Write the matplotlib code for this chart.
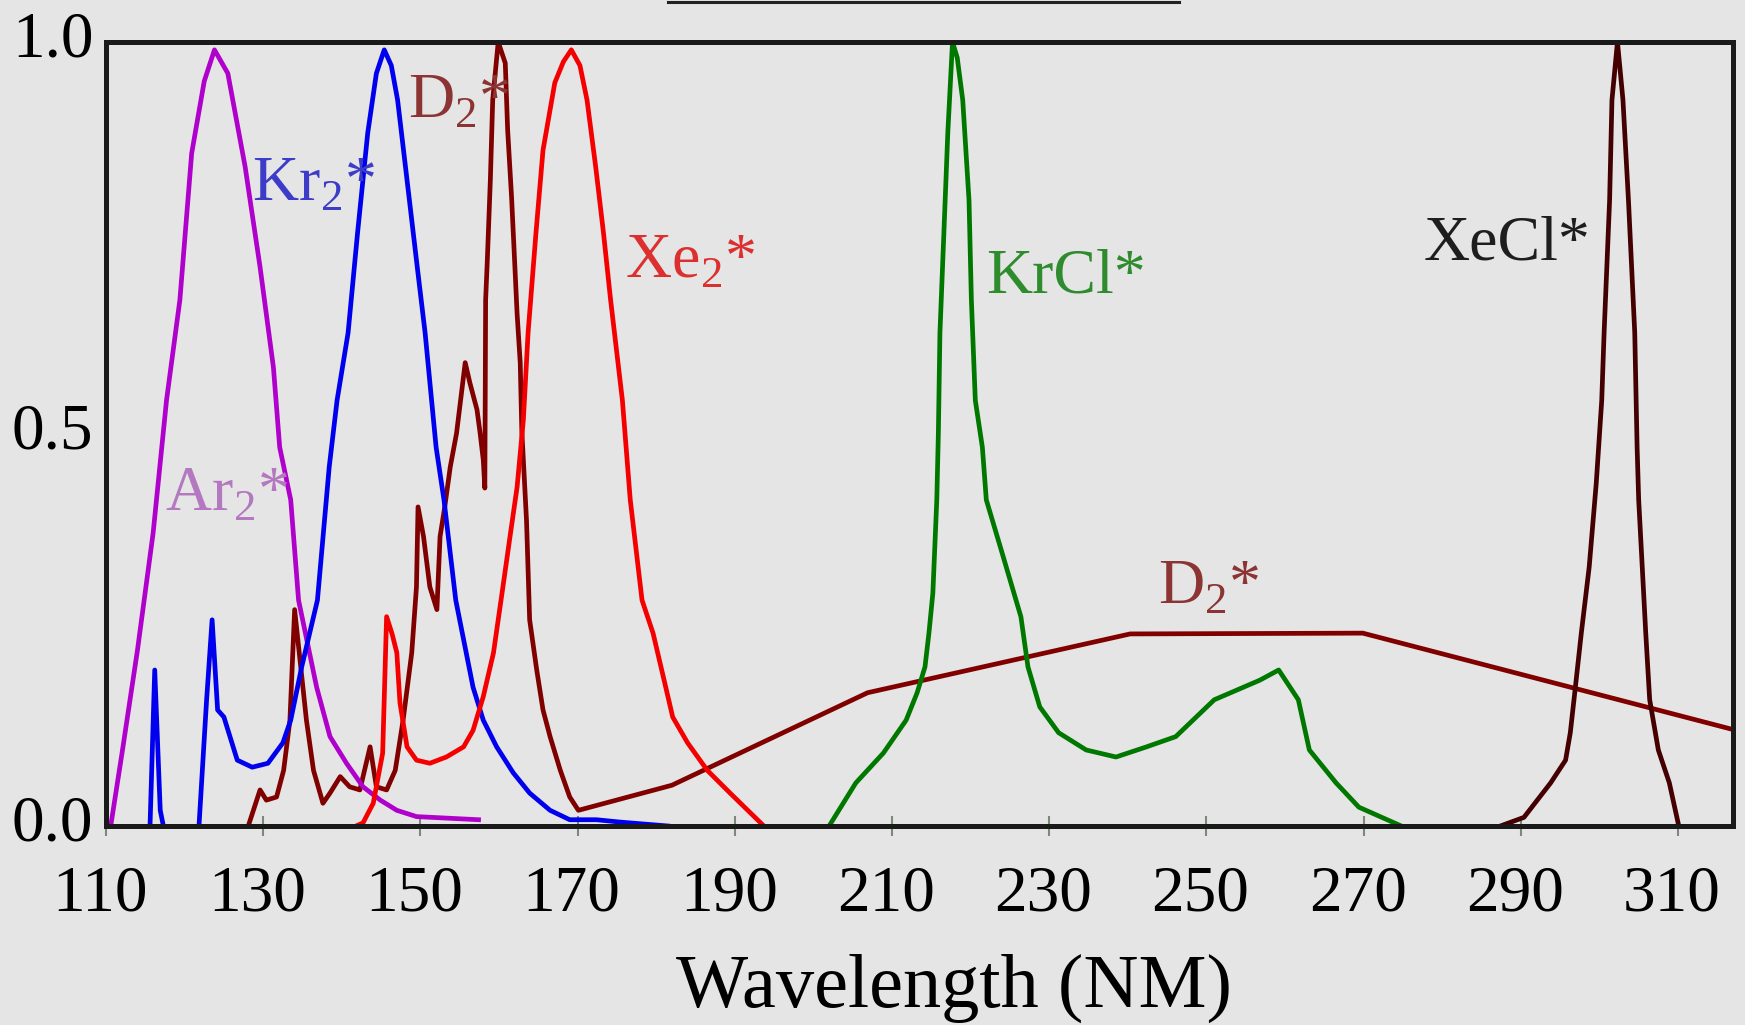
import matplotlib
matplotlib.use('Agg')
import matplotlib.pyplot as plt
from matplotlib.transforms import ScaledTranslation
from matplotlib.lines import Line2D

plt.rcParams['font.family'] = ['Liberation Serif', 'DejaVu Serif']
plt.rcParams['mathtext.fontset'] = 'custom'
plt.rcParams['mathtext.rm'] = 'Liberation Serif'

# ---------------- data (wavelength in nm, normalised intensity) ----------------
ar2_nm = [110.6, 112.1, 114.0, 116.0, 117.7, 119.4, 120.9, 122.5, 123.8, 125.5, 127.7,
          129.6, 131.3, 132.1, 133.5, 134.5, 136.8, 138.5, 140.6, 142.7, 144.9, 147.0,
          149.5, 157.4]
ar2_y = [0.0, 0.097, 0.224, 0.374, 0.543, 0.671, 0.858, 0.95, 0.99, 0.96, 0.841,
         0.713, 0.585, 0.483, 0.416, 0.288, 0.177, 0.114, 0.080, 0.050, 0.033, 0.020,
         0.012, 0.008]

kr2_nm = [115.6, 116.2, 116.9, 117.5, 120.5, 121.8, 122.8, 123.5, 124.2, 125.0, 126.7,
          128.6, 130.6, 132.5, 133.5, 134.9, 136.9, 138.4, 139.4, 140.8, 142.0, 143.3,
          144.4, 145.4, 146.3, 147.1, 148.1, 149.6, 150.6, 152.0, 153.0, 154.5, 156.7,
          158.0, 159.7, 161.8, 163.9, 166.5, 169.0, 172.4, 175.4, 181.5]
kr2_y = [0.0, 0.199, 0.02, -0.01, -0.01, -0.005, 0.161, 0.263, 0.148, 0.139, 0.084,
         0.075, 0.080, 0.106, 0.135, 0.203, 0.288, 0.458, 0.543, 0.629, 0.756, 0.884,
         0.96, 0.99, 0.97, 0.926, 0.841, 0.713, 0.629, 0.483, 0.416, 0.288, 0.177,
         0.135, 0.101, 0.068, 0.042, 0.020, 0.008, 0.008, 0.005, 0.0]

d2_nm = [128.1, 129.6, 130.4, 131.7, 132.6, 133.4, 134.0, 135.5, 136.4, 137.6, 138.5,
         139.8, 141.0, 142.3, 143.6, 144.4, 145.7, 146.8, 147.8, 148.9, 149.5, 149.7,
         150.4, 151.2, 152.1, 152.5, 153.1, 153.8, 154.6, 155.7, 156.3, 157.2, 157.6,
         158.0, 158.2, 158.3, 158.5, 158.9, 159.2, 159.9, 160.8, 161.1, 161.6, 162.0,
         162.3, 162.7, 162.9, 163.5, 163.9, 164.8, 165.6, 166.5, 167.8, 169.0, 170.1,
         182.0, 206.9, 240.3, 269.9, 317.4]
d2_y = [0.0, 0.046, 0.033, 0.037, 0.071, 0.135, 0.276, 0.135, 0.071, 0.029, 0.042,
        0.063, 0.050, 0.046, 0.101, 0.050, 0.046, 0.071, 0.135, 0.221, 0.305, 0.407,
        0.369, 0.305, 0.276, 0.369, 0.407, 0.458, 0.501, 0.591, 0.565, 0.531, 0.501,
        0.467, 0.431, 0.671, 0.718, 0.824, 0.926, 1.0, 0.973, 0.888, 0.802, 0.718,
        0.654, 0.591, 0.505, 0.390, 0.263, 0.199, 0.148, 0.114, 0.071, 0.037, 0.020,
        0.052, 0.170, 0.245, 0.246, 0.122]

xe2_nm = [138.2, 139.8, 142.7, 144.0, 145.2, 145.7, 146.4, 147.0, 147.4, 148.3, 149.5,
          151.2, 153.3, 155.5, 156.7, 158.0, 159.3, 160.5, 161.4, 162.3, 163.1, 163.7,
          164.7, 165.6, 167.1, 168.2, 169.2, 170.3, 171.2, 172.3, 173.3, 174.2, 175.7,
          176.7, 178.2, 179.6, 181.1, 182.1, 184.0, 186.5, 189.4, 193.7]
xe2_y = [-0.01, -0.009, 0.004, 0.029, 0.093, 0.267, 0.245, 0.221, 0.157, 0.101, 0.084,
         0.080, 0.088, 0.101, 0.122, 0.165, 0.221, 0.305, 0.369, 0.432, 0.518, 0.629,
         0.756, 0.862, 0.948, 0.975, 0.990, 0.97, 0.926, 0.841, 0.756, 0.671, 0.543,
         0.416, 0.288, 0.246, 0.182, 0.139, 0.106, 0.071, 0.042, 0.0]

krcl_nm = [202.0, 205.4, 208.9, 211.8, 213.2, 214.2, 214.7, 215.2, 215.7, 215.9, 216.1,
           216.6, 217.1, 217.7, 218.3, 219.0, 219.8, 220.1, 220.6, 221.5, 222.0, 223.9,
           226.4, 227.3, 228.8, 231.2, 234.7, 238.5, 242.4, 246.1, 251.0, 256.8, 259.2,
           261.7, 263.1, 266.5, 269.4, 274.8]
krcl_y = [0.0, 0.055, 0.093, 0.135, 0.170, 0.203, 0.246, 0.297, 0.416, 0.501, 0.629,
          0.756, 0.884, 1.0, 0.98, 0.926, 0.798, 0.671, 0.543, 0.483, 0.416, 0.352,
          0.267, 0.203, 0.152, 0.119, 0.097, 0.088, 0.101, 0.114, 0.161, 0.186, 0.199,
          0.161, 0.097, 0.055, 0.024, 0.0]

xecl_nm = [287.4, 290.4, 293.8, 295.7, 296.3, 297.0, 297.7, 298.7, 299.6, 300.3, 300.6,
           301.3, 301.6, 302.3, 303.0, 303.7, 304.5, 304.8, 305.0, 305.9, 306.4, 307.5,
           308.9, 310.1]
xecl_y = [0.0, 0.011, 0.055, 0.084, 0.119, 0.182, 0.246, 0.330, 0.437, 0.543, 0.629,
          0.798, 0.926, 1.0, 0.926, 0.798, 0.629, 0.483, 0.416, 0.246, 0.161, 0.097,
          0.055, 0.0]

x_ticks = [110, 130, 150, 170, 190, 210, 230, 250, 270, 290, 310]
y_ticks = [0.0, 0.5, 1.0]
y_tick_labels = ['0.0', '0.5', '1.0']

# ---------------- styling ----------------
bg = '#e5e5e5'
series = [
    (d2_nm, d2_y, '#800000'),
    (ar2_nm, ar2_y, '#b000cc'),
    (kr2_nm, kr2_y, '#0000ee'),
    (xe2_nm, xe2_y, '#f50000'),
    (krcl_nm, krcl_y, '#007800'),
    (xecl_nm, xecl_y, '#440000'),
]
labels = [
    ('Ar$_\\mathrm{2}$*', 117.5, 0.403, '#b478c0'),
    ('Kr$_\\mathrm{2}$*', 128.6, 0.798, '#3c3cc8'),
    ('D$_\\mathrm{2}$*', 148.4, 0.904, '#8c3434'),
    ('Xe$_\\mathrm{2}$*', 176.0, 0.700, '#dc3030'),
    ('KrCl*', 222.0, 0.680, '#2e8b2e'),
    ('XeCl*', 277.7, 0.722, '#1e1e1e'),
    ('D$_\\mathrm{2}$*', 243.8, 0.284, '#8c3434'),
]

W, H = 1745, 1025
fig = plt.figure(figsize=(W / 100, H / 100), dpi=100, facecolor=bg)
ax = fig.add_axes([106 / W, 1 - 826 / H, 1627 / W, 784 / H], facecolor=bg)

for xs, ys, c in series:
    ax.plot(xs, ys, color=c, lw=3.4, solid_joinstyle='round')

for txt, x, y, c in labels:
    ax.text(x, y, txt, color=c, fontsize=46, ha='left', va='baseline')

ax.set_xlim(110, 317)
ax.set_ylim(0, 1.0)
ax.set_xticks(x_ticks)
ax.set_xticklabels([str(t) for t in x_ticks], fontsize=47)
ax.set_yticks(y_ticks)
ax.set_yticklabels(y_tick_labels, fontsize=47)
ax.tick_params(axis='x', direction='inout', length=14, width=1.5, color='#7a8a7a', pad=21)
ax.tick_params(axis='y', length=0, pad=9)

for lab in ax.get_yticklabels():
    lab.set_transform(lab.get_transform() + ScaledTranslation(0, 8 / 100, fig.dpi_scale_trans))
for lab in ax.get_xticklabels():
    lab.set_transform(lab.get_transform() + ScaledTranslation(-6 / 100, 0, fig.dpi_scale_trans))

for s in ax.spines.values():
    s.set_linewidth(3.6)
    s.set_color('#1a1a1a')

ax.set_xlabel('Wavelength (NM)', fontsize=55)
ax.xaxis.set_label_coords(0.521, -0.231)
ax.xaxis.label.set_verticalalignment('baseline')

# cropped title underline at top edge
fig.add_artist(Line2D([668 / W, 1179 / W], [1 - 1.5 / H, 1 - 1.5 / H],
                      transform=fig.transFigure, lw=2.2, color='#222222'))

fig.savefig('out.png', dpi=100, facecolor=bg)
